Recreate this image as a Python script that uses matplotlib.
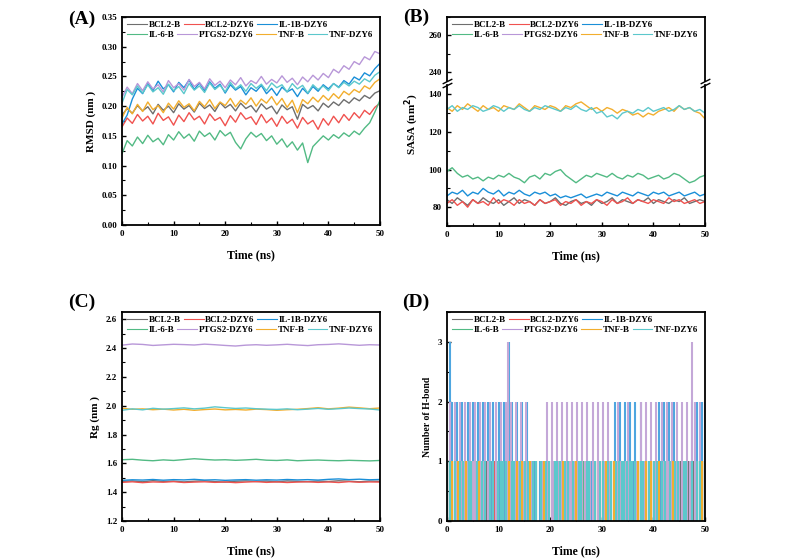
import numpy as np
import matplotlib
matplotlib.use('Agg')
import matplotlib.pyplot as plt
from matplotlib.lines import Line2D
from matplotlib.ticker import MultipleLocator, FormatStrFormatter

plt.rcParams['font.family'] = ['Liberation Serif', 'DejaVu Serif']
plt.rcParams['font.weight'] = 'bold'
plt.rcParams['axes.labelweight'] = 'bold'

names = ['BCL2-B', 'BCL2-DZY6', 'IL-1B-DZY6', 'IL-6-B', 'PTGS2-DZY6', 'TNF-B', 'TNF-DZY6']
colors = ['#6E6E6E', '#F0524F', '#1A8FD8', '#52BA84', '#B897D8', '#F2AE2E', '#5CC8CC']

# (A) RMSD (nm), one value per ns, 0..50
rmsd = {
    'BCL2-B': [0.185,0.196,0.188,0.201,0.192,0.199,0.187,0.203,0.193,0.200,0.189,0.204,0.195,0.201,0.190,0.205,0.196,0.202,0.191,0.206,0.197,0.203,0.192,0.205,0.196,0.201,0.190,0.204,0.195,0.200,0.187,0.202,0.194,0.199,0.178,0.203,0.196,0.201,0.192,0.205,0.198,0.207,0.201,0.211,0.205,0.214,0.209,0.218,0.213,0.222,0.226],
    'BCL2-DZY6': [0.165,0.180,0.171,0.186,0.175,0.183,0.170,0.188,0.176,0.182,0.168,0.185,0.174,0.189,0.177,0.183,0.170,0.187,0.176,0.181,0.167,0.184,0.173,0.189,0.178,0.182,0.169,0.186,0.172,0.180,0.166,0.183,0.171,0.178,0.163,0.181,0.170,0.176,0.161,0.179,0.168,0.183,0.172,0.186,0.176,0.189,0.180,0.193,0.186,0.198,0.205],
    'IL-1B-DZY6': [0.170,0.185,0.212,0.230,0.221,0.238,0.226,0.242,0.229,0.236,0.224,0.240,0.231,0.244,0.228,0.239,0.226,0.241,0.230,0.237,0.222,0.236,0.227,0.233,0.219,0.231,0.225,0.235,0.221,0.230,0.218,0.232,0.224,0.229,0.216,0.230,0.221,0.233,0.225,0.236,0.229,0.238,0.232,0.243,0.237,0.249,0.244,0.256,0.251,0.263,0.272],
    'IL-6-B': [0.120,0.142,0.133,0.148,0.137,0.151,0.140,0.146,0.135,0.152,0.143,0.157,0.146,0.153,0.141,0.158,0.149,0.155,0.143,0.159,0.150,0.156,0.139,0.128,0.145,0.156,0.148,0.154,0.142,0.150,0.136,0.145,0.131,0.140,0.126,0.138,0.105,0.132,0.141,0.150,0.143,0.152,0.146,0.155,0.149,0.158,0.152,0.163,0.172,0.190,0.210],
    'PTGS2-DZY6': [0.215,0.232,0.221,0.238,0.226,0.241,0.229,0.236,0.224,0.243,0.231,0.238,0.227,0.245,0.233,0.240,0.229,0.246,0.235,0.242,0.231,0.244,0.236,0.248,0.234,0.243,0.238,0.250,0.237,0.245,0.239,0.251,0.240,0.247,0.236,0.249,0.241,0.252,0.244,0.255,0.248,0.262,0.256,0.268,0.262,0.275,0.270,0.283,0.278,0.292,0.288],
    'TNF-B': [0.180,0.198,0.187,0.203,0.191,0.207,0.194,0.201,0.189,0.205,0.195,0.209,0.198,0.204,0.192,0.208,0.199,0.211,0.196,0.207,0.201,0.213,0.199,0.210,0.203,0.214,0.200,0.212,0.205,0.216,0.202,0.213,0.198,0.210,0.189,0.211,0.204,0.215,0.207,0.218,0.210,0.221,0.213,0.225,0.219,0.228,0.223,0.234,0.229,0.240,0.246],
    'TNF-DZY6': [0.205,0.228,0.219,0.234,0.222,0.236,0.224,0.231,0.220,0.237,0.226,0.233,0.221,0.238,0.227,0.234,0.223,0.239,0.228,0.235,0.224,0.240,0.229,0.236,0.225,0.238,0.230,0.237,0.226,0.239,0.231,0.236,0.224,0.238,0.229,0.235,0.222,0.236,0.228,0.234,0.226,0.238,0.231,0.240,0.234,0.242,0.237,0.246,0.241,0.252,0.258],
}

# (B) SASA (nm^2), one value per ns
sasa = {
    'BCL2-B': [84,82,85,83,81,84,82,85,83,82,84,81,83,85,82,84,83,81,84,82,83,85,82,81,83,84,82,83,81,84,82,83,85,82,84,83,82,84,83,85,82,84,83,82,84,83,85,82,83,84,83],
    'BCL2-DZY6': [82,84,81,83,80,84,82,83,81,85,82,84,83,81,84,82,83,81,84,82,83,84,81,83,82,84,81,83,82,84,83,81,84,82,83,85,82,84,83,82,84,83,82,85,83,84,82,83,84,82,83],
    'IL-1B-DZY6': [86,88,87,89,86,88,87,90,88,87,89,86,88,87,89,87,86,88,87,88,86,87,85,86,85,86,87,85,86,87,86,88,87,86,88,87,86,88,87,86,88,87,88,86,87,88,86,87,88,86,87],
    'IL-6-B': [99,101,98,96,97,95,96,94,96,95,97,96,98,96,95,93,96,97,95,98,97,99,100,97,95,93,95,97,96,98,97,96,98,96,95,97,96,98,97,95,96,97,95,96,98,97,95,93,94,96,97],
    'TNF-B': [133,131,134,132,135,133,131,134,132,133,131,134,133,132,135,133,131,134,133,132,134,133,131,134,133,135,136,134,132,133,131,133,132,130,132,131,129,130,128,130,129,131,132,133,131,134,132,133,131,130,127],
    'TNF-DZY6': [132,134,131,133,132,134,133,131,132,134,133,131,133,132,134,132,131,133,132,134,133,132,131,133,132,134,132,131,133,130,131,128,129,127,130,131,130,132,131,133,131,132,133,131,132,134,132,133,131,132,130],
}

# (C) Rg (nm), one value every 2 ns
rg = {
    'BCL2-B': [1.475,1.478,1.472,1.480,1.474,1.477,1.471,1.476,1.479,1.473,1.470,1.476,1.478,1.474,1.477,1.472,1.478,1.475,1.473,1.477,1.474,1.479,1.476,1.472,1.477,1.475],
    'BCL2-DZY6': [1.468,1.472,1.466,1.471,1.469,1.473,1.467,1.470,1.472,1.468,1.471,1.466,1.470,1.473,1.468,1.471,1.467,1.470,1.472,1.468,1.471,1.467,1.473,1.469,1.471,1.470],
    'IL-1B-DZY6': [1.482,1.486,1.484,1.488,1.483,1.487,1.485,1.489,1.484,1.486,1.482,1.485,1.487,1.483,1.486,1.484,1.488,1.485,1.487,1.484,1.489,1.492,1.487,1.490,1.486,1.488],
    'IL-6-B': [1.625,1.628,1.622,1.618,1.624,1.620,1.626,1.632,1.627,1.623,1.625,1.621,1.624,1.628,1.622,1.620,1.624,1.618,1.621,1.623,1.620,1.618,1.621,1.619,1.617,1.620],
    'PTGS2-DZY6': [2.420,2.428,2.425,2.418,2.422,2.426,2.424,2.421,2.427,2.423,2.418,2.414,2.420,2.423,2.419,2.422,2.426,2.421,2.417,2.423,2.425,2.429,2.424,2.419,2.423,2.421],
    'TNF-B': [1.982,1.975,1.978,1.972,1.976,1.970,1.975,1.968,1.973,1.977,1.971,1.974,1.970,1.976,1.973,1.968,1.972,1.975,1.980,1.986,1.978,1.983,1.990,1.985,1.979,1.984],
    'TNF-DZY6': [1.968,1.978,1.971,1.982,1.976,1.980,1.985,1.978,1.983,1.992,1.986,1.981,1.984,1.979,1.976,1.974,1.978,1.972,1.976,1.981,1.975,1.979,1.984,1.980,1.977,1.970],
}

# (D) number of H-bonds, one digit every 0.5 ns
hbond = {
    'BCL2-B':     '1010010100101001010010100101001010010100101001010010100101001010010100101001010010100101001010010',
    'BCL2-DZY6':  '0101001010010100101001010010100101001010010100101001010010100101001010010100101001010010100101001',
    'IL-6-B':     '1001010010010100100101001001010010010100100101001001010010010100100101001001010010010100100101001',
    'IL-1B-DZY6': '13202120212021202120212032120212001010010100101001010010100101000212120212120101002121212010101212121',
    'PTGS2-DZY6': '121212121212121212121212321212121101010212121212121212121212121210121012101021212121212121212121321212',
    'TNF-B':      '1010110101011010110101011010110101011010110101011010110101011010110101011010110101011010110101011',
    'TNF-DZY6':   '1101011011010110110111101101011011010110111011010110110101101101111111101101011011010110110101101',
}

time_a = np.arange(51)
time_c = np.arange(0, 51, 2)

fig = plt.figure(figsize=(7.94, 5.59), dpi=100)
W, H = 794, 559


def box(l, t, r, b):
    return [l / W, 1 - b / H, (r - l) / W, (b - t) / H]


def style(ax, xlab=True):
    for s in ax.spines.values():
        s.set_linewidth(1.3)
    ax.tick_params(direction='in', labelsize=6.5, width=1.0, length=3)
    ax.tick_params(which='minor', direction='in', width=0.8, length=2)
    ax.set_xlim(0, 50)
    ax.xaxis.set_major_locator(MultipleLocator(10))
    ax.xaxis.set_minor_locator(MultipleLocator(5))
    if xlab:
        ax.set_xlabel('Time (ns)', fontsize=8.5, labelpad=8)


def add_legend(ax):
    h = [Line2D([], [], color=c, lw=0.8) for c in colors]
    hpx = ax.get_position().height * H
    kw = dict(loc='upper left', frameon=False, fontsize=6.5, handlelength=2.2,
              handletextpad=0.2, columnspacing=0.3, borderaxespad=0, borderpad=0)
    top = 1 - 3.5 / hpx
    l1 = ax.legend(h[:3], names[:3], ncol=3, bbox_to_anchor=(0.02, top), **kw)
    ax.add_artist(l1)
    ax.legend(h[3:], names[3:], ncol=4, bbox_to_anchor=(0.02, top - 10.5 / hpx), **kw)


# (A)
axA = fig.add_axes(box(122, 17, 380, 225))
for n, c in zip(names, colors):
    axA.plot(time_a, rmsd[n], color=c, lw=1.0)
axA.set_ylim(0, 0.35)
axA.yaxis.set_major_locator(MultipleLocator(0.05))
axA.yaxis.set_minor_locator(MultipleLocator(0.025))
axA.yaxis.set_major_formatter(FormatStrFormatter('%.2f'))
axA.set_ylabel('RMSD (nm )', fontsize=8)
style(axA)
add_legend(axA)

# (B) broken axis
axBt = fig.add_axes(box(447, 17, 705, 81))
axBb = fig.add_axes(box(447, 85, 705, 226))
for ax in (axBt, axBb):
    for n, c in zip(names, colors):
        if n in sasa:
            ax.plot(time_a, sasa[n], color=c, lw=1.0)
axBt.set_ylim(235, 270)
axBb.set_ylim(70, 145)
for ax in (axBt, axBb):
    ax.yaxis.set_major_locator(MultipleLocator(20))
    ax.yaxis.set_minor_locator(MultipleLocator(10))
style(axBt, xlab=False)
style(axBb)
axBt.spines['bottom'].set_visible(False)
axBb.spines['top'].set_visible(False)
axBt.tick_params(axis='x', which='both', bottom=False, labelbottom=False)
axBb.set_ylabel('SASA (nm$^2$)', fontsize=8)
axBb.yaxis.set_label_coords(-0.1, 0.72)
d = dict(marker=[(-1, -0.5), (1, 0.5)], markersize=7, linestyle='none', color='k',
         mec='k', mew=1, clip_on=False)
axBt.plot([0, 1], [0, 0], transform=axBt.transAxes, **d)
axBb.plot([0, 1], [1, 1], transform=axBb.transAxes, **d)
add_legend(axBt)

# (C)
axC = fig.add_axes(box(122, 312, 380, 521))
for n, c in zip(names, colors):
    axC.plot(time_c, rg[n], color=c, lw=1.0)
axC.set_ylim(1.2, 2.65)
axC.yaxis.set_major_locator(MultipleLocator(0.2))
axC.yaxis.set_minor_locator(MultipleLocator(0.1))
axC.yaxis.set_major_formatter(FormatStrFormatter('%.1f'))
axC.set_ylabel('Rg (nm )', fontsize=8)
style(axC)
add_legend(axC)

# (D)
axD = fig.add_axes(box(447, 312, 705, 521))
d_colors = {'IL-1B-DZY6': '#4EA6E0', 'PTGS2-DZY6': '#C4A8D8'}
for n, c in zip(names, colors):
    vals = np.array([int(ch) for ch in hbond[n]])
    tt = np.linspace(0, 50, len(vals))
    m = vals > 0
    axD.vlines(tt[m], 0, vals[m], color=d_colors.get(n, c), lw=1.5)
axD.set_ylim(0, 3.5)
axD.yaxis.set_major_locator(MultipleLocator(1))
axD.yaxis.set_minor_locator(MultipleLocator(0.5))
axD.set_ylabel('Number of H-bond', fontsize=7)
style(axD)
add_legend(axD)

for lab, x, y in [('(A)', 82, 19), ('(B)', 416, 17), ('(C)', 82, 302), ('(D)', 416, 302)]:
    fig.text(x / W, 1 - y / H, lab, fontsize=14, fontweight='bold', ha='center', va='center')

fig.savefig('out.png', dpi=100)
